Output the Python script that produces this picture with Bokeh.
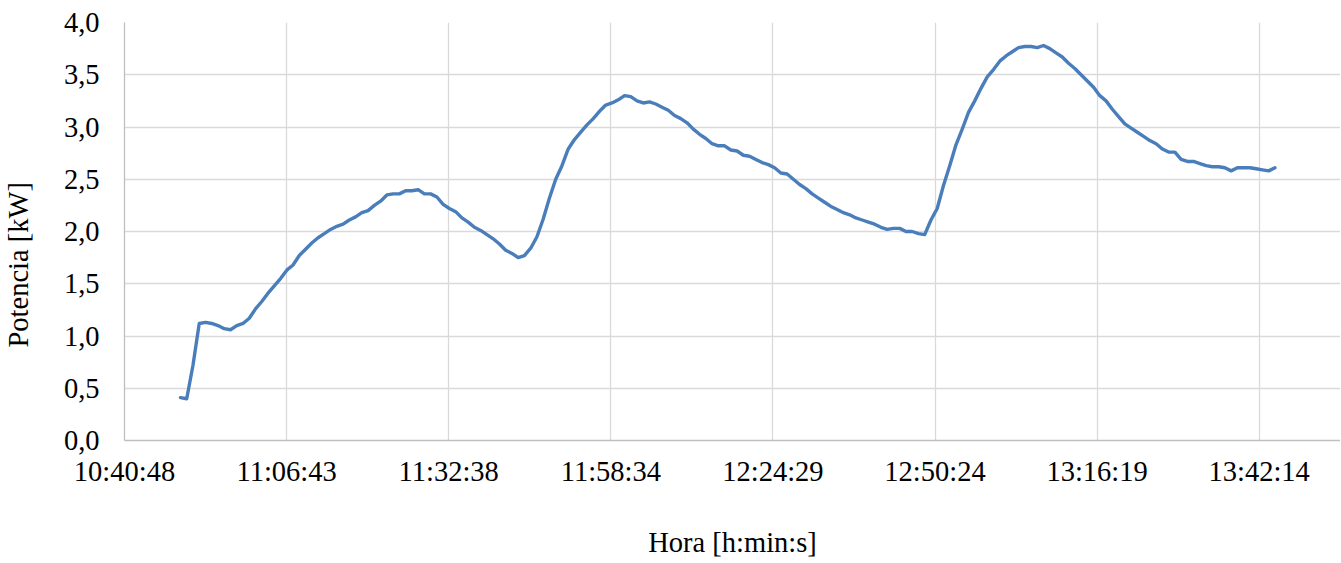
from bokeh.plotting import figure
from bokeh.models import FixedTicker, CustomJSTickFormatter, Range1d, Title, ColumnDataSource
from bokeh.embed import file_html
from bokeh.resources import INLINE

# ---- data ----
sample_start = "10:49:45"
sample_step_s = 60
potencia_kw = [
    0.41, 0.40, 0.72, 1.12, 1.13, 1.12, 1.10, 1.07, 1.06, 1.10,
    1.12, 1.17, 1.26, 1.33, 1.41, 1.48, 1.55, 1.63, 1.68, 1.77,
    1.83, 1.89, 1.94, 1.98, 2.02, 2.05, 2.07, 2.11, 2.14, 2.18,
    2.20, 2.25, 2.29, 2.35, 2.36, 2.36, 2.39, 2.39, 2.40, 2.36,
    2.36, 2.33, 2.26, 2.22, 2.19, 2.13, 2.09, 2.04, 2.01, 1.97,
    1.93, 1.88, 1.82, 1.79, 1.75, 1.77, 1.84, 1.95, 2.12, 2.32,
    2.50, 2.63, 2.79, 2.88, 2.95, 3.02, 3.08, 3.15, 3.21, 3.23,
    3.26, 3.30, 3.29, 3.25, 3.23, 3.24, 3.22, 3.19, 3.16, 3.11,
    3.08, 3.04, 2.98, 2.93, 2.89, 2.84, 2.82, 2.82, 2.78, 2.77,
    2.73, 2.72, 2.69, 2.66, 2.64, 2.61, 2.56, 2.55, 2.50, 2.45,
    2.41, 2.36, 2.32, 2.28, 2.24, 2.21, 2.18, 2.16, 2.13, 2.11,
    2.09, 2.07, 2.04, 2.02, 2.03, 2.03, 2.00, 2.00, 1.98, 1.97,
    2.11, 2.22, 2.44, 2.63, 2.83, 2.98, 3.14, 3.25, 3.37, 3.48,
    3.55, 3.63, 3.68, 3.72, 3.76, 3.77, 3.77, 3.76, 3.78, 3.75,
    3.71, 3.67, 3.61, 3.56, 3.50, 3.44, 3.38, 3.30, 3.25, 3.17,
    3.10, 3.03, 2.99, 2.95, 2.91, 2.87, 2.84, 2.79, 2.76, 2.76,
    2.69, 2.67, 2.67, 2.65, 2.63, 2.62, 2.62, 2.61, 2.58, 2.61,
    2.61, 2.61, 2.60, 2.59, 2.58, 2.61,
]
x_tick_labels = ["10:40:48", "11:06:43", "11:32:38", "11:58:34",
                 "12:24:29", "12:50:24", "13:16:19", "13:42:14"]
y_ticks = [0.0, 0.5, 1.0, 1.5, 2.0, 2.5, 3.0, 3.5, 4.0]
x_axis_max = "13:55:14"
x_title = "Hora [h:min:s]"
y_title = "Potencia [kW]"


def to_s(hms):
    h, m, s = (int(v) for v in hms.split(":"))
    return h * 3600 + m * 60 + s


t0 = to_s(sample_start)
xs = [t0 + i * sample_step_s for i in range(len(potencia_kw))]
x_ticks = [to_s(l) for l in x_tick_labels]

FONT = "Liberation Serif"
FS = "28.5px"
W, H = 1340, 560
LEFT, TOP, BOTTOM = 124, 22, 115

p = figure(width=W, height=H, output_backend="svg", toolbar_location=None,
           x_range=Range1d(x_ticks[0], to_s(x_axis_max)),
           y_range=Range1d(0, 4.0),
           min_border_left=LEFT, min_border_right=0, min_border_top=TOP,
           min_border_bottom=BOTTOM)
p.outline_line_color = None
p.background_fill_color = "white"
p.border_fill_color = "white"

src = ColumnDataSource(dict(x=xs, y=potencia_kw))
p.line("x", "y", source=src, line_color="#4a7ebb", line_width=3.4,
       line_join="round", line_cap="round")

# axes
p.xaxis.ticker = FixedTicker(ticks=x_ticks)
p.xaxis.major_label_overrides = {t: l for t, l in zip(x_ticks, x_tick_labels)}
p.yaxis.ticker = FixedTicker(ticks=y_ticks)
p.yaxis.formatter = CustomJSTickFormatter(code="return tick.toFixed(1).replace('.', ',');")

for ax in (p.xaxis[0], p.yaxis[0]):
    ax.major_tick_line_color = None
    ax.minor_tick_line_color = None
    ax.major_tick_out = 0
    ax.major_tick_in = 0
    ax.axis_line_color = "#bfbfbf"
    ax.axis_line_width = 1.3
    ax.major_label_text_font = FONT
    ax.major_label_text_font_size = FS
    ax.major_label_text_color = "#000000"
    ax.axis_label_text_font = FONT
    ax.axis_label_text_font_size = FS
    ax.axis_label_text_font_style = "normal"
    ax.axis_label_text_color = "#000000"

p.xaxis.major_label_standoff = 15
p.xaxis.axis_label = x_title
p.xaxis.axis_label_standoff = 37
p.yaxis.major_label_standoff = 25
# blank spacer label: pushes the side title further left
p.yaxis.axis_label = " "
p.yaxis.axis_label_text_font_size = "1px"
p.yaxis.axis_label_standoff = 23

p.xgrid.ticker = FixedTicker(ticks=x_ticks)
p.ygrid.ticker = FixedTicker(ticks=y_ticks)
for g in (p.xgrid[0], p.ygrid[0]):
    g.grid_line_color = "#d9d9d9"
    g.grid_line_width = 1.3

# y title as a side title, starting a bit above the frame bottom like the reference
ytitle = Title(text=y_title, align="left", offset=93,
               standoff=0, text_font=FONT, text_font_size=FS,
               text_font_style="normal", text_color="#000000")
p.add_layout(ytitle, "left")

open("out.html", "w").write(file_html(p, INLINE))
